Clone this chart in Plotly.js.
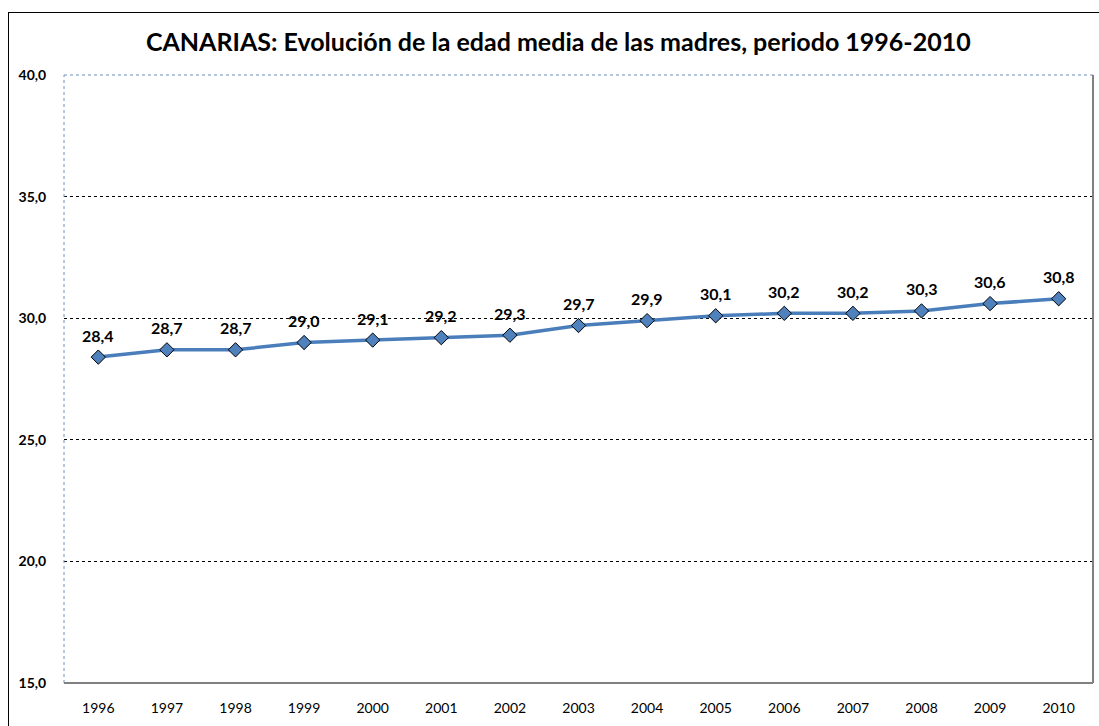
<!DOCTYPE html>
<html>
<head>
<meta charset="utf-8">
<script src="https://cdn.plot.ly/plotly-3.0.1.min.js"></script>
<style>
  body { margin: 0; background: #fff; }
  #frame { position: absolute; left: 8px; top: 12px; width: 1200px; height: 800px;
           border-left: 1px solid #000; border-top: 1px solid #000; pointer-events: none; }
  #chart { width: 1099px; height: 726px; }
</style>
</head>
<body>
<div id="chart"></div>
<div id="frame"></div>
<script>
var years = ['1996', '1997', '1998', '1999', '2000', '2001', '2002', '2003',
	'2004', '2005', '2006', '2007', '2008', '2009', '2010'];
var edad_media = [28.4, 28.7, 28.7, 29.0, 29.1, 29.2, 29.3, 29.7,
	29.9, 30.1, 30.2, 30.2, 30.3, 30.6, 30.8];
var y_ticks = [15, 20, 25, 30, 35, 40];

var font_fam = 'Lato, "Open Sans", sans-serif';

var serie = {
	type: 'scatter',
	x: years,
	y: edad_media,
	mode: 'lines+markers',
	line: { color: '#4A7EBB', width: 3.5 },
	marker: { symbol: 'diamond', size: 11, color: '#4F81BD', line: { color: '#000', width: 1 } },
	cliponaxis: false,
	hoverinfo: 'skip'
};

// etiquetas de datos encima de cada punto (x = indice de categoria)
var etiquetas = years.map(function (yr, i) {
	return {
		x: i, y: edad_media[i], xref: 'x', yref: 'y',
		text: '<b>' + edad_media[i].toFixed(1).replace('.', ',') + '</b>',
		showarrow: false, yshift: 22,
		font: { family: font_fam, size: 16, color: '#000' }
	};
});

var layout = {
	title: {
		text: '<b>CANARIAS: Evolución de la edad media de las madres, periodo 1996-2010</b>',
		font: { family: font_fam, size: 25, color: '#000' },
		x: 0.508, xanchor: 'center', y: 0.942, yanchor: 'middle'
	},
	separators: ',.',
	showlegend: false,
	margin: { l: 64, r: 6, t: 75, b: 43 },
	paper_bgcolor: '#fff',
	plot_bgcolor: '#fff',
	xaxis: {
		type: 'category',
		range: [-0.5, 14.5],
		showgrid: false,
		zeroline: false,
		showline: false,
		ticks: 'outside',
		ticklen: 12,
		tickcolor: 'rgba(0,0,0,0)',
		tickfont: { family: font_fam, size: 14, color: '#000' }
	},
	yaxis: {
		range: [15, 40],
		tickvals: y_ticks,
		tickformat: '.1f',
		showgrid: true,
		gridcolor: '#000',
		griddash: 'dot',
		gridwidth: 1,
		zeroline: false,
		showline: false,
		ticks: 'outside',
		ticklen: 14,
		tickcolor: 'rgba(0,0,0,0)',
		tickfont: { family: font_fam, size: 14, color: '#000', weight: 'bold' }
	},
	annotations: etiquetas,
	shapes: [
		{ type: 'line', xref: 'paper', yref: 'paper', x0: 0, x1: 1, y0: 1, y1: 1,
		  line: { color: '#6C8EBF', width: 1, dash: 'dot' } },
		{ type: 'line', xref: 'paper', yref: 'paper', x0: 0, x1: 0, y0: 0, y1: 1,
		  line: { color: '#6C8EBF', width: 1, dash: 'dot' } },
		{ type: 'line', xref: 'paper', yref: 'paper', x0: 1, x1: 1, y0: 0, y1: 1,
		  line: { color: '#808080', width: 2 } },
		{ type: 'line', xref: 'paper', yref: 'paper', x0: 0, x1: 1, y0: 0, y1: 0,
		  line: { color: '#808080', width: 2 } }
	]
};

Plotly.newPlot('chart', [serie], layout, { displayModeBar: false, staticPlot: true });
</script>
</body>
</html>
